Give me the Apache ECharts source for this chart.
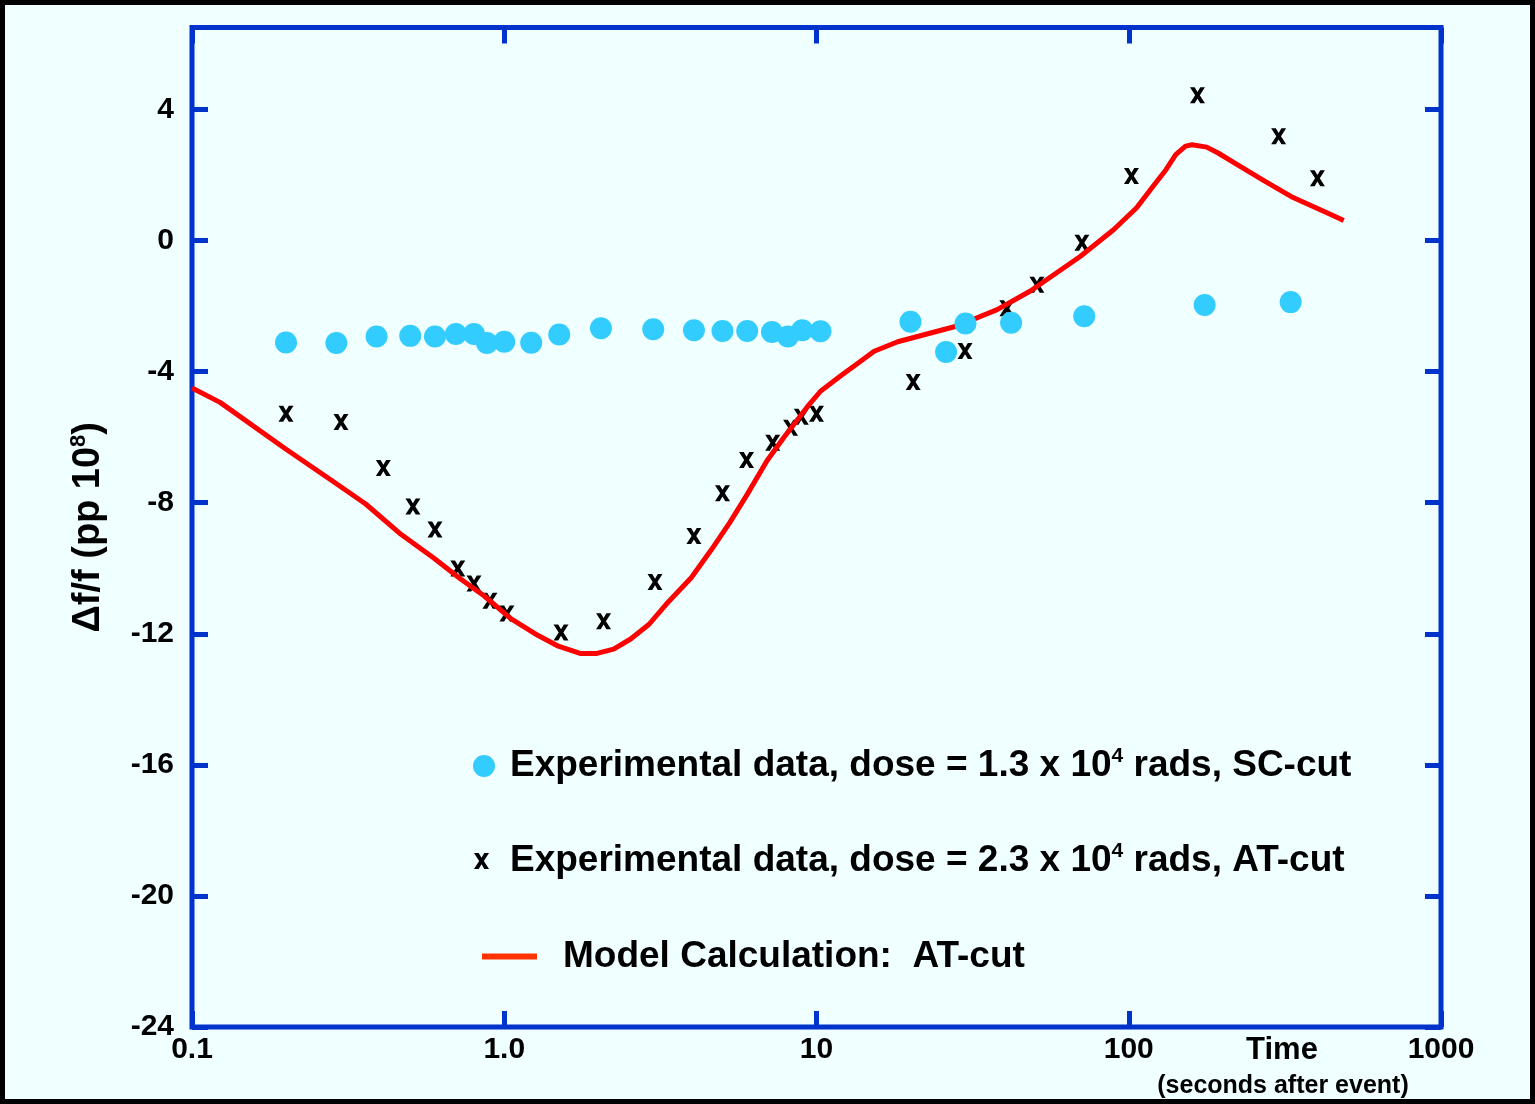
<!DOCTYPE html>
<html>
<head>
<meta charset="utf-8">
<script src="https://cdn.jsdelivr.net/npm/echarts@6/dist/echarts.min.js"></script>
<style>
html,body{margin:0;padding:0;background:#f0ffff;}
#c{width:1535px;height:1104px;}
</style>
</head>
<body>
<div id="c"></div>
<script>
// ---- data ----
const xTickValues = [0.1, 1, 10, 100, 1000];
const xTickLabels = ['0.1', '1.0', '10', '100', '1000'];

// SC-cut experimental data (filled circles)
const scTime  = [0.2, 0.29, 0.39, 0.5, 0.6, 0.7, 0.8, 0.88, 1.0, 1.22,
                 1.5, 2.04, 3.0, 4.05, 5.0, 6.0, 7.2, 8.1, 9.0, 10.3,
                 20, 26, 30, 42, 72, 175, 330];
const scShift = [-3.11, -3.13, -2.93, -2.91, -2.93, -2.85, -2.85, -3.13, -3.09, -3.12,
                 -2.87, -2.68, -2.71, -2.74, -2.76, -2.76, -2.79, -2.93, -2.74, -2.77,
                 -2.48, -3.4, -2.53, -2.51, -2.31, -1.97, -1.88];

// AT-cut experimental data (x marks)
const atTime  = [0.2, 0.3, 0.41, 0.51, 0.6, 0.71, 0.8, 0.9, 1.02, 1.52,
                 2.08, 3.04, 4.05, 5.0, 5.97, 7.24, 8.26, 8.94, 10.0, 20.4,
                 29.9, 40.7, 50.8, 70.8, 102, 166, 302, 402];
const atShift = [-5.29, -5.54, -6.94, -8.12, -8.82, -10.01, -10.47, -10.99, -11.38, -11.96,
                 -11.62, -10.42, -9.02, -7.71, -6.70, -6.17, -5.71, -5.38, -5.29, -4.32,
                 -3.37, -2.07, -1.35, -0.07, 1.97, 4.43, 3.18, 1.90];

// Model calculation, AT-cut (red line)
const modelTime  = [0.1, 0.123, 0.198, 0.281, 0.36, 0.462, 0.593, 0.723, 0.861, 1.05,
                    1.25, 1.49, 1.75, 1.98, 2.24, 2.54, 2.91, 3.3, 3.97, 4.61,
                    5.28, 5.98, 6.94, 7.86, 9.35, 10.3, 11.96, 13.5, 15.3, 18.2,
                    28.2, 37.9, 48.4, 69.9, 89.4, 106, 119.5, 131.6, 141.4, 152,
                    159.5, 177.7, 193.3, 228.8, 270.8, 336, 449, 488];
const modelShift = [-4.5, -4.94, -6.34, -7.33, -8.04, -8.93, -9.68, -10.32, -10.84, -11.54,
                    -11.99, -12.38, -12.6, -12.6, -12.47, -12.16, -11.71, -11.1, -10.29, -9.43,
                    -8.6, -7.77, -6.72, -6.01, -5.07, -4.6, -4.13, -3.76, -3.38, -3.09,
                    -2.61, -2.11, -1.54, -0.49, 0.33, 1.0, 1.65, 2.16, 2.62, 2.88,
                    2.92, 2.85, 2.67, 2.25, 1.83, 1.31, 0.77, 0.61];

// ---- chart ----
const FONT = '"Liberation Sans", Arial, Helvetica, sans-serif';
const BLUE = '#0033cc';
const XPATH = 'path://M0,0H5L8,5L11,0H16L10.5,8.5L16,17H11L8,12L5,17H0L5.5,8.5Z';

function fmtX(v) {
  for (let i = 0; i < xTickValues.length; i++) {
    if (Math.abs(Math.log10(v) - Math.log10(xTickValues[i])) < 1e-6) return xTickLabels[i];
  }
  return '';
}
function fmtY(v) {
  return (Math.abs(v % 4) < 1e-9) ? String(v) : '';
}

const tickStyle = {show: true, inside: true, length: 16, lineStyle: {color: BLUE, width: 5}};
const noLine = {show: false, onZero: false};
const labelStyle = {fontSize: 30, fontWeight: 'bold', color: '#000', fontFamily: FONT};
const richMain = {fontSize: 37, fontWeight: 'bold', color: '#000', fontFamily: FONT, lineHeight: 40};
const richSup = {fontSize: 21, fontWeight: 'bold', color: '#000', fontFamily: FONT, lineHeight: 28, verticalAlign: 'top'};
const richName = {fontSize: 38, fontWeight: 'bold', color: '#000', fontFamily: FONT, lineHeight: 42};
const richNameSup = {fontSize: 22, fontWeight: 'bold', color: '#000', fontFamily: FONT, lineHeight: 30, verticalAlign: 'top'};

const chart = echarts.init(document.getElementById('c'), null, {renderer: 'canvas'});
chart.setOption({
  animation: false,
  backgroundColor: '#f0ffff',
  grid: {left: 192, right: 94, top: 27.5, bottom: 77, show: true,
         borderColor: BLUE, borderWidth: 5, backgroundColor: 'transparent'},
  xAxis: [
    {type: 'log', logBase: 10, min: 0.1, max: 1000, position: 'bottom',
     axisLine: noLine, axisTick: tickStyle, splitLine: {show: false},
     minorTick: {show: false},
     axisLabel: Object.assign({formatter: fmtX, margin: 8}, labelStyle)},
    {type: 'log', logBase: 10, min: 0.1, max: 1000, position: 'top',
     axisLine: noLine, axisTick: tickStyle, splitLine: {show: false},
     axisLabel: {show: false}}
  ],
  yAxis: [
    {type: 'value', min: -24, max: 6.5, interval: 4, position: 'left',
     axisLine: noLine, axisTick: tickStyle, splitLine: {show: false},
     axisLabel: Object.assign({formatter: fmtY, margin: 18, showMaxLabel: false}, labelStyle),
     name: '{a|\u0394f/f (pp 10}{s|8}{a|)}', nameLocation: 'middle', nameRotate: 90, nameGap: 82,
     nameTextStyle: {rich: {a: richName, s: richNameSup}}},
    {type: 'value', min: -24, max: 6.5, interval: 4, position: 'right',
     axisLine: noLine, axisTick: tickStyle, splitLine: {show: false},
     axisLabel: {show: false}}
  ],
  legend: [
    {data: [{name: 'SC-cut data', icon: 'circle'}], left: 473, top: 746,
     itemWidth: 22, itemHeight: 22, padding: 0, selectedMode: false,
     formatter: () => '{a|Experimental data, dose = 1.3 x 10}{s|4}{a| rads, SC-cut}',
     textStyle: {padding: [0, 0, 0, 10], rich: {a: richMain, s: richSup}}},
    {data: [{name: 'AT-cut data'}], left: 474, top: 841,
     itemWidth: 15, itemHeight: 16, padding: 0, selectedMode: false,
     formatter: () => '{a|Experimental data, dose = 2.3 x 10}{s|4}{a| rads, AT-cut}',
     textStyle: {padding: [0, 0, 0, 16], rich: {a: richMain, s: richSup}}},
    {data: [{name: 'Model', icon: 'rect', itemStyle: {color: '#ff3300', borderWidth: 0}}],
     left: 482, top: 938,
     itemWidth: 55, itemHeight: 6, padding: 0, selectedMode: false,
     formatter: () => '{a|Model Calculation:  AT-cut}',
     textStyle: {padding: [0, 0, 0, 21], rich: {a: richMain}}}
  ],
  series: [
    {name: 'AT-cut data', type: 'scatter', z: 2,
     data: atTime.map((t, i) => [t, atShift[i]]),
     symbol: XPATH, symbolSize: [15, 16], itemStyle: {color: '#000', opacity: 1}},
    {name: 'Model', type: 'line', z: 3,
     data: modelTime.map((t, i) => [t, modelShift[i]]),
     symbol: 'none', showSymbol: false, smooth: false,
     color: '#ff0000', lineStyle: {color: '#ff0000', width: 5}},
    {name: 'SC-cut data', type: 'scatter', z: 4,
     data: scTime.map((t, i) => [t, scShift[i]]),
     symbol: 'circle', symbolSize: 22, itemStyle: {color: '#33ccff', opacity: 1}}
  ],
  graphic: [
    {type: 'text', x: 1282, y: 1050, silent: true,
     style: {text: 'Time', font: 'bold 31px ' + FONT, fill: '#000',
             align: 'center', verticalAlign: 'middle', textAlign: 'center', textVerticalAlign: 'middle'}},
    {type: 'text', x: 1283, y: 1086, silent: true,
     style: {text: '(seconds after event)', font: 'bold 25px ' + FONT, fill: '#000',
             align: 'center', verticalAlign: 'middle', textAlign: 'center', textVerticalAlign: 'middle'}},
    {type: 'rect', silent: true, z: 100,
     shape: {x: 0, y: 0, width: 1535, height: 1104},
     style: {fill: 'none', stroke: '#000', lineWidth: 10}}
  ]
});
</script>
</body>
</html>
